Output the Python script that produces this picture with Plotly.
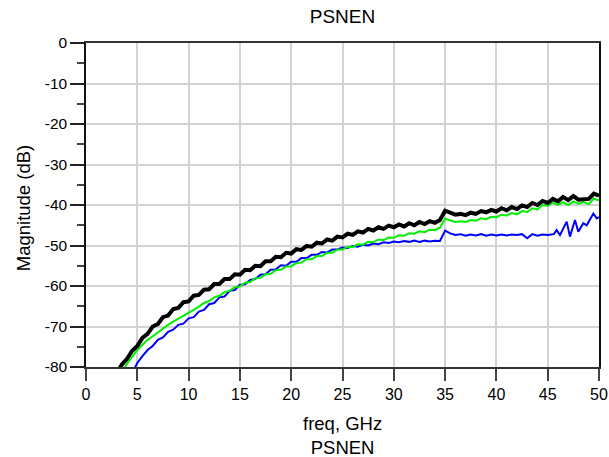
import plotly.graph_objects as go

# ---- data ----
freq_main = [3.0, 3.5, 4.0, 4.5, 5.0, 5.5, 6.0, 6.5, 7.0, 7.5, 8.0, 8.5, 9.0, 9.5,
             10.0, 10.5, 11.0, 11.5, 12.0, 12.5, 13.0, 13.5, 14.0, 14.5, 15.0, 15.5,
             16.0, 16.5, 17.0, 17.5, 18.0, 18.5, 19.0, 19.5, 20.0, 20.5, 21.0, 21.5,
             22.0, 22.5, 23.0, 23.5, 24.0, 24.5, 25.0, 25.5, 26.0, 26.5, 27.0, 27.5,
             28.0, 28.5, 29.0, 29.5, 30.0, 30.5, 31.0, 31.5, 32.0, 32.5, 33.0, 33.5,
             34.0, 34.5, 35.0, 35.5, 36.0, 36.5, 37.0, 37.5, 38.0, 38.5, 39.0, 39.5,
             40.0, 40.5, 41.0, 41.5, 42.0, 42.5, 43.0, 43.5, 44.0, 44.5, 45.0, 45.5,
             46.0, 46.5, 47.0, 47.5, 48.0, 48.5, 49.0, 49.5, 50.0]

mag_black = [-81.5, -79.4, -78.0, -76.0, -74.8, -72.8, -71.8, -70.0, -69.4, -67.7, -67.3, -65.7,
             -65.4, -64.0, -63.8, -62.4, -62.2, -60.9, -60.8, -59.5, -59.5, -58.3, -58.3, -57.1,
             -57.2, -56.0, -56.1, -55.0, -55.1, -53.9, -53.9, -52.8, -52.9, -51.8, -52.0, -50.9,
             -51.1, -50.1, -50.3, -49.3, -49.5, -48.5, -48.8, -47.8, -48.0, -47.1, -47.4, -46.5,
             -46.8, -45.9, -46.3, -45.5, -45.9, -45.1, -45.5, -44.8, -45.3, -44.5, -45.0, -44.2,
             -44.7, -44.0, -44.4, -43.7, -41.4, -42.0, -42.4, -42.2, -42.5, -41.9, -42.2, -41.5,
             -41.8, -41.2, -41.6, -40.8, -41.3, -40.5, -41.0, -40.1, -40.5, -39.5, -40.0, -39.0,
             -39.5, -38.5, -39.1, -38.0, -38.8, -37.8, -38.7, -38.6, -38.5, -37.2, -37.7]

mag_green = [-83.5, -81.2, -79.2, -77.5, -75.8, -74.5, -73.3, -72.4, -71.4, -70.4, -69.6, -68.8,
             -68.1, -67.5, -66.7, -65.9, -65.1, -64.2, -63.7, -62.8, -62.4, -61.5, -61.2, -60.3,
             -60.1, -59.2, -59.0, -58.1, -58.0, -57.1, -57.0, -56.1, -56.0, -55.2, -55.1, -54.3,
             -54.2, -53.4, -53.4, -52.6, -52.6, -51.8, -51.8, -51.0, -51.0, -50.3, -50.4, -49.7,
             -49.8, -49.1, -49.2, -48.5, -48.7, -48.0, -48.1, -47.5, -47.6, -47.0, -47.1, -46.5,
             -46.7, -46.1, -46.2, -45.6, -43.4, -43.8, -44.2, -44.0, -44.2, -43.7, -43.9, -43.3,
             -43.5, -42.9, -43.0, -42.4, -42.6, -42.0, -42.3, -41.5, -41.7, -40.8, -41.1, -40.0,
             -40.2, -39.4, -40.0, -39.3, -40.0, -39.1, -39.7, -39.3, -39.8, -38.4, -38.9]

freq_blue = [3.0, 4.0, 4.5, 5.0, 5.5, 6.0, 6.5, 7.0, 7.5, 8.0, 8.5, 9.0, 9.5,
             10.0, 10.5, 11.0, 11.5, 12.0, 12.5, 13.0, 13.5, 14.0, 14.5, 15.0, 15.5,
             16.0, 16.5, 17.0, 17.5, 18.0, 18.5, 19.0, 19.5, 20.0, 20.5, 21.0, 21.5,
             22.0, 22.5, 23.0, 23.5, 24.0, 24.5, 25.0, 25.5, 26.0, 26.5, 27.0, 27.5,
             28.0, 28.5, 29.0, 29.5, 30.0, 30.5, 31.0, 31.5, 32.0, 32.5, 33.0, 33.5,
             34.0, 34.5, 35.0, 35.5, 36.0, 36.5, 37.0, 37.5, 38.0, 38.5, 39.0, 39.5,
             40.0, 40.5, 41.0, 41.5, 42.0, 42.5, 43.0, 43.5, 44.0, 44.5, 45.0, 45.6,
             45.87, 46.2, 46.85, 47.17, 47.66, 47.98, 48.47, 48.8, 49.45, 49.78, 50.0]

mag_blue = [-88.0, -84.0, -81.5, -79.0, -77.3, -75.8, -74.8, -73.3, -72.7, -71.3, -70.8, -69.6,
            -69.3, -68.0, -67.7, -66.3, -65.9, -64.5, -64.2, -62.8, -62.6, -61.2, -61.0, -59.7,
            -59.6, -58.5, -58.3, -57.2, -57.1, -56.0, -55.9, -54.9, -55.0, -54.0, -54.0, -53.1,
            -53.1, -52.3, -52.3, -51.6, -51.7, -51.0, -51.0, -50.5, -50.6, -50.1, -50.3, -49.8,
            -50.0, -49.5, -49.7, -49.2, -49.4, -49.0, -49.2, -48.9, -49.1, -48.8, -49.1, -48.8,
            -49.0, -48.8, -48.9, -46.3, -47.0, -47.4, -47.2, -47.6, -47.3, -47.5, -47.2, -47.6,
            -47.3, -47.5, -47.3, -47.5, -47.3, -47.4, -47.2, -48.2, -47.2, -47.6, -47.3, -47.4,
            -47.2, -46.2, -47.4, -44.1, -47.8, -43.7, -46.6, -44.5, -45.0, -42.1, -43.3, -43.0]

x_tick_vals = [0, 5, 10, 15, 20, 25, 30, 35, 40, 45, 50]
x_tick_text = ["0", "5", "10", "15", "20", "25", "30", "35", "40", "45", "50"]
y_tick_vals = [0, -10, -20, -30, -40, -50, -60, -70, -80]
y_tick_text = ["0", "-10", "-20", "-30", "-40", "-50", "-60", "-70", "-80"]

chart_title = "PSNEN"
x_title_lines = ["freq, GHz", "PSNEN"]
y_title = "Magnitude (dB)"

FONT = "Liberation Sans, Arial, sans-serif"

fig = go.Figure()
fig.add_trace(go.Scatter(x=freq_blue, y=mag_blue, mode="lines",
                         line=dict(color="#0000ff", width=2), showlegend=False))
fig.add_trace(go.Scatter(x=freq_main, y=mag_green, mode="lines",
                         line=dict(color="#00ee00", width=2), showlegend=False))
fig.add_trace(go.Scatter(x=freq_main, y=mag_black, mode="lines",
                         line=dict(color="#000000", width=4), showlegend=False))

fig.update_layout(
    width=609, height=457,
    margin=dict(l=86, r=10, t=43, b=90, autoexpand=False),
    paper_bgcolor="white", plot_bgcolor="white",
    font=dict(family=FONT, size=15.5, color="black"),
    title=dict(text=chart_title, x=0.5, xanchor="center", xref="paper",
               y=1 - 16 / 457, yanchor="middle",
               font=dict(family=FONT, size=19, color="black")),
)
fig.update_xaxes(
    range=[0, 50], tickvals=x_tick_vals, ticktext=x_tick_text,
    showgrid=True, gridcolor="#d3d3d3", gridwidth=1.5,
    ticks="outside", ticklen=12, tickcolor="#444", tickwidth=1.5,
    showline=True, linecolor="#333", linewidth=1.5, mirror=True,
    zeroline=False, automargin=False,
    tickfont=dict(family=FONT, size=16),
)
fig.update_yaxes(
    range=[-80, 0], tickvals=y_tick_vals, ticktext=y_tick_text,
    showgrid=True, gridcolor="#d3d3d3", gridwidth=1.5,
    ticks="outside", ticklen=14, tickcolor="#222", tickwidth=1.5,
    minor=dict(ticks="outside", ticklen=7, tickcolor="#444", dtick=5, tick0=-5, showgrid=False),
    showline=True, linecolor="#111", linewidth=1.5, mirror=True,
    zeroline=False, automargin=False,
    tickfont=dict(family=FONT, size=15.5),
)

plot_h = 457 - 43 - 90
plot_w = 609 - 86 - 10
fig.add_annotation(text="<br>".join(x_title_lines), xref="paper", yref="paper",
                   x=0.5, y=(367 - 435) / plot_h, xanchor="center", yanchor="middle",
                   showarrow=False, font=dict(family=FONT, size=18.5))
fig.add_annotation(text=y_title, xref="paper", yref="paper",
                   x=(23 - 86) / plot_w, y=0.49, xanchor="center", yanchor="middle",
                   textangle=-90, showarrow=False, font=dict(family=FONT, size=18.5))

fig.write_html("out.html", config={"displayModeBar": False},
               post_script="document.body.style.margin='0px';document.body.style.overflow='hidden';")
